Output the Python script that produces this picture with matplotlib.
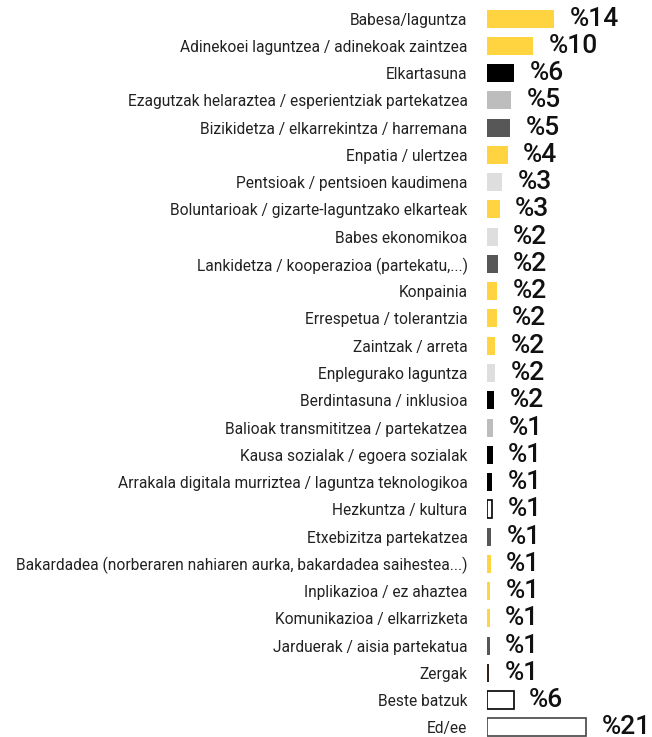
import matplotlib
matplotlib.use("Agg")
import matplotlib.pyplot as plt

labels = [
    "Babesa/laguntza",
    "Adinekoei laguntzea / adinekoak zaintzea",
    "Elkartasuna",
    "Ezagutzak helaraztea / esperientziak partekatzea",
    "Bizikidetza / elkarrekintza / harremana",
    "Enpatia / ulertzea",
    "Pentsioak / pentsioen kaudimena",
    "Boluntarioak / gizarte-laguntzako elkarteak",
    "Babes ekonomikoa",
    "Lankidetza / kooperazioa (partekatu,...)",
    "Konpainia",
    "Errespetua / tolerantzia",
    "Zaintzak / arreta",
    "Enplegurako laguntza",
    "Berdintasuna / inklusioa",
    "Balioak transmititzea / partekatzea",
    "Kausa sozialak / egoera sozialak",
    "Arrakala digitala murriztea / laguntza teknologikoa",
    "Hezkuntza / kultura",
    "Etxebizitza partekatzea",
    "Bakardadea (norberaren nahiaren aurka, bakardadea saihestea...)",
    "Inplikazioa / ez ahaztea",
    "Komunikazioa / elkarrizketa",
    "Jarduerak / aisia partekatua",
    "Zergak",
    "Beste batzuk",
    "Ed/ee",
]
values = [14.1, 9.7, 5.7, 5.1, 4.9, 4.4, 3.2, 2.7, 2.3, 2.3, 2.1, 2.0, 1.7,
          1.7, 1.5, 1.3, 1.2, 1.1, 1.1, 0.9, 0.8, 0.7, 0.6, 0.6, 0.5, 5.6, 20.9]
shown = ["%14", "%10", "%6", "%5", "%5", "%4", "%3", "%3", "%2", "%2", "%2",
         "%2", "%2", "%2", "%2", "%1", "%1", "%1", "%1", "%1", "%1", "%1",
         "%1", "%1", "%1", "%6", "%21"]

YEL, BLK, LGR, DGR, VLG, WHT = "#FFD440", "#000000", "#BDBDBD", "#575757", "#DEDEDF", "#FFFFFF"
fills = [YEL, YEL, BLK, LGR, DGR, YEL, VLG, YEL, VLG, DGR, YEL, YEL, YEL,
         VLG, BLK, LGR, BLK, BLK, WHT, DGR, YEL, YEL, YEL, DGR, "#2b2616",
         WHT, WHT]
edges = {18: "#000000", 25: "#000000", 26: "#444444"}

plt.rcParams["font.family"] = ["Roboto", "DejaVu Sans"]

fig = plt.figure(figsize=(6.52, 7.37), dpi=100)
ax = fig.add_axes([487 / 652, -4 / 737, 165 / 652, 736 / 737])

y = list(range(len(labels)))
for i, (v, c) in enumerate(zip(values, fills)):
    ec = edges.get(i, "none")
    ax.barh(i, v, height=0.66, color=c, edgecolor=ec,
            linewidth=1.2 if ec != "none" else 0)
    ax.annotate(shown[i], (v, i), xytext=(11, 0), textcoords="offset points",
                va="center", ha="left", fontsize=19, fontweight="medium",
                color="#111111", annotation_clip=False)

ax.set_ylim(len(labels) - 0.5, -0.5)
ax.set_xlim(0, 165 / 4.75)
ax.set_yticks(y, labels, fontsize=11.2, color="#222222")
ax.tick_params(axis="y", length=0, pad=14)
ax.set_xticks([])
for s in ax.spines.values():
    s.set_visible(False)

fig.savefig("out.png", dpi=100)
